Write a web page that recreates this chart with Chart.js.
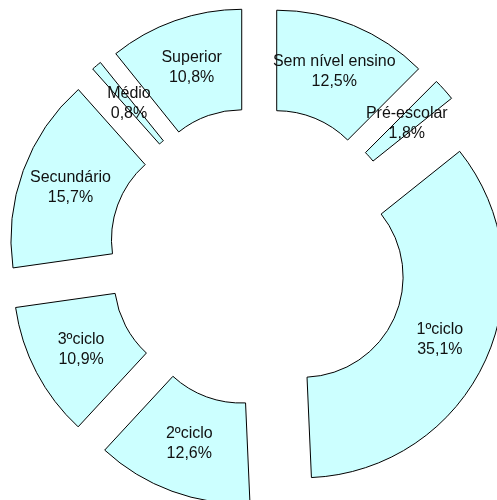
<!DOCTYPE html>
<html>
<head>
<meta charset="utf-8">
<script src="https://cdn.jsdelivr.net/npm/chart.js@4/dist/chart.umd.min.js"></script>
<style>
  body { margin: 0; background: #fff; }
  canvas { display: block; }
</style>
</head>
<body>
<canvas id="donut" width="497" height="500"></canvas>
<script>
// data
const categories = ["Sem nível ensino", "Pré-escolar", "1ºciclo", "2ºciclo", "3ºciclo", "Secundário", "Médio", "Superior"];
const shares = [12.5, 1.8, 35.1, 12.6, 10.9, 15.7, 0.8, 10.8];

const explode = 49; // px each slice is pulled out along its bisector

// Chart.js' own offset also grows the radius, so draw each arc shifted instead (plain exploded pie)
const explodeSlices = {
    id: "explodeSlices",
    beforeDatasetDraw(chart, args) {
        const ctx = chart.ctx;
        args.meta.data.forEach(arc => {
            const mid = (arc.startAngle + arc.endAngle) / 2;
            ctx.save();
            ctx.translate(Math.cos(mid) * explode, Math.sin(mid) * explode);
            arc.draw(ctx, chart.chartArea);
            ctx.restore();
        });
        return false;
    }
};

const sliceLabels = {
    id: "sliceLabels",
    afterDatasetsDraw(chart) {
        const ctx = chart.ctx;
        const meta = chart.getDatasetMeta(0);
        ctx.save();
        ctx.font = "16px 'Liberation Sans', Arial, sans-serif";
        ctx.fillStyle = "#111";
        ctx.textAlign = "center";
        ctx.textBaseline = "middle";
        meta.data.forEach((arc, i) => {
            const p = arc.getProps(["x", "y", "startAngle", "endAngle", "innerRadius", "outerRadius"], true);
            const mid = (p.startAngle + p.endAngle) / 2;
            const r = (p.innerRadius + p.outerRadius) / 2 + explode;
            const x = p.x + Math.cos(mid) * r;
            const y = p.y + Math.sin(mid) * r;
            ctx.fillText(categories[i], x, y - 10);
            ctx.fillText(shares[i].toFixed(1).replace(".", ",") + "%", x, y + 10);
        });
        ctx.restore();
    }
};

new Chart(document.getElementById("donut"), {
    type: "doughnut",
    data: {
        labels: categories,
        datasets: [{
            data: shares,
            backgroundColor: "#CCFFFF",
            borderColor: "#000",
            borderWidth: 1,
            hoverOffset: 0
        }]
    },
    options: {
        responsive: false,
        devicePixelRatio: 1,
        animation: false,
        radius: 201,
        cutout: "50%",
        layout: { padding: { left: 19, top: 13 } },
        plugins: {
            legend: { display: false },
            tooltip: { enabled: false }
        }
    },
    plugins: [explodeSlices, sliceLabels]
});
</script>
</body>
</html>
